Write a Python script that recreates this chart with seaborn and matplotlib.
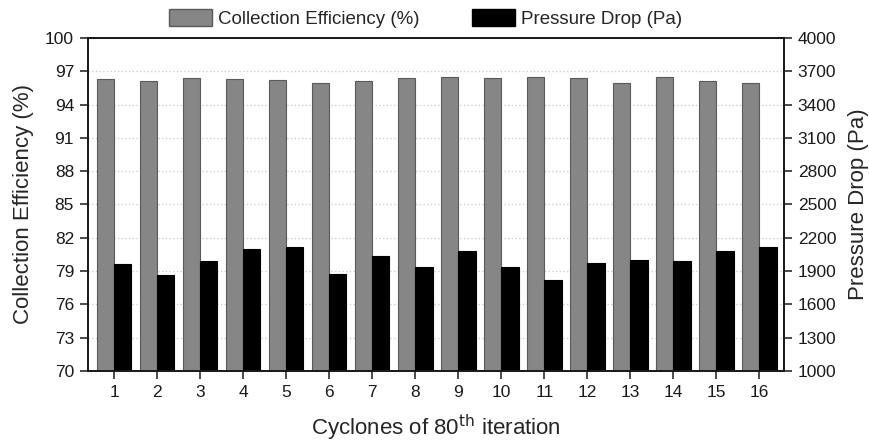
import pandas as pd
import matplotlib.pyplot as plt
import matplotlib.patches as mpatches
import seaborn as sns

cyclones = list(range(1, 17))
efficiency = [96.35, 96.13, 96.37, 96.28, 96.22, 95.93, 96.17, 96.44,
              96.53, 96.37, 96.46, 96.40, 95.95, 96.50, 96.13, 95.99]
pressure = [1965, 1861, 1990, 2103, 2115, 1876, 2032, 1936,
            2085, 1936, 1819, 1972, 1999, 1992, 2085, 2121]

eff_name = "Collection Efficiency (%)"
pres_name = "Pressure Drop (Pa)"
order = [eff_name, pres_name]

df = pd.concat([
    pd.DataFrame({"cyclone": cyclones, "value": efficiency, "series": eff_name}),
    pd.DataFrame({"cyclone": cyclones, "value": pressure, "series": pres_name}),
])

sns.set_style("ticks")
plt.rcParams['font.family'] = ['Liberation Sans', 'DejaVu Sans']

fig = plt.figure(figsize=(8.7, 4.46), dpi=100)
ax = fig.add_axes([0.1011, 0.1682, 0.8000, 0.7466])
ax2 = ax.twinx()

colors = {eff_name: "#868686", pres_name: "#000000"}

# draw both series (dodged) on each axis, keep only the one that belongs to it
sns.barplot(data=df, x="cyclone", y="value", hue="series", hue_order=order,
            palette=colors, width=0.8, edgecolor="#5a5a5a", linewidth=0.8,
            legend=False, ax=ax)
for bar in list(ax.containers[1]):
    bar.remove()

sns.barplot(data=df, x="cyclone", y="value", hue="series", hue_order=order,
            palette=colors, width=0.8, edgecolor="#000000", linewidth=0.8,
            legend=False, ax=ax2)
for bar in list(ax2.containers[0]):
    bar.remove()

ax.set_ylim(70, 100)
ax.set_yticks(range(70, 101, 3))
ax.grid(axis="y", linestyle=":", color="#d0d0d0", linewidth=1)
ax.set_axisbelow(True)
ax2.set_ylim(1000, 4000)
ax2.set_yticks(range(1000, 4001, 300))

ax.set_xlim(-0.61, 15.57)
ax.set_xlabel("Cyclones of 80$^{\\mathrm{th}}$ iteration", fontsize=16, labelpad=9)
ax.set_ylabel(eff_name, fontsize=16, labelpad=8)
ax2.set_ylabel(pres_name, fontsize=16, labelpad=8)

for a in (ax, ax2):
    a.tick_params(labelsize=12.5, direction="out", length=6, width=1.1,
                  pad=4, colors="#1a1a1a")
    for s in a.spines.values():
        s.set_linewidth(1.3)
        s.set_color("#1a1a1a")

handles = [mpatches.Patch(facecolor="#868686", edgecolor="#5a5a5a", label=eff_name),
           mpatches.Patch(facecolor="#000000", edgecolor="#000000", label=pres_name)]
fig.legend(handles=handles, loc="center", bbox_to_anchor=(0.489, 1 - 18.5 / 446), ncol=2,
           frameon=False, fontsize=13.5, handlelength=2.3, handleheight=1.0,
           columnspacing=2.8, handletextpad=0.3, borderpad=0)

fig.savefig("out.png", dpi=100)
